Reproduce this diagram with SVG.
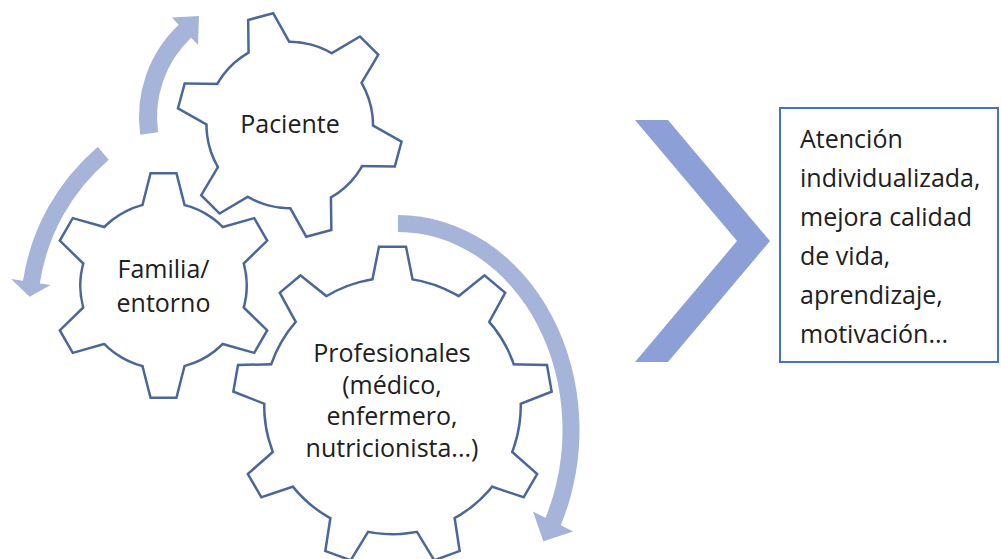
<svg xmlns="http://www.w3.org/2000/svg" width="1001" height="559" viewBox="0 0 1001 559">
<style>
.arc{fill:#A6B4DA}
.chev{fill:#8D9FD7}
.gs{fill:#4B6799;stroke:#4B6799;stroke-width:5;stroke-linejoin:miter}
.gf{fill:#ffffff}
.t{font-family:"Open Sans","Liberation Sans",sans-serif;font-size:25px;fill:#202020}
.c{text-anchor:middle}
.box{fill:#ffffff;stroke:#4472C4;stroke-width:2}
</style>
<defs>
<polygon id="t6" points="76,-20.9 111,-12 111,12 76,20.9"/>
<polygon id="t9" points="122,-19.7 158,-12.5 158,12.5 122,19.7"/>
<g id="gear6">
<circle r="82"/>
<use href="#t6"/>
<use href="#t6" transform="rotate(60)"/>
<use href="#t6" transform="rotate(120)"/>
<use href="#t6" transform="rotate(180)"/>
<use href="#t6" transform="rotate(240)"/>
<use href="#t6" transform="rotate(300)"/>
</g>
<g id="gear9">
<circle r="127"/>
<use href="#t9"/>
<use href="#t9" transform="rotate(40)"/>
<use href="#t9" transform="rotate(80)"/>
<use href="#t9" transform="rotate(120)"/>
<use href="#t9" transform="rotate(160)"/>
<use href="#t9" transform="rotate(200)"/>
<use href="#t9" transform="rotate(240)"/>
<use href="#t9" transform="rotate(280)"/>
<use href="#t9" transform="rotate(320)"/>
</g>
</defs>
<rect x="0" y="0" width="1001" height="559" fill="#ffffff"/>

<g id="connectors">
<path id="arrow-paciente" class="arc" d="M140.2 134.7 A127 127 0 0 1 178.7 24.7 L171.9 17.5 L199 16 L198 45.1 L191.1 37.8 A109 109 0 0 0 158.1 132.2 Z"/>
<path id="arrow-familia" class="arc" d="M97.7 146.9 A219.5 219.5 0 0 0 23 280.8 L11.1 279 L29.7 296.7 L50.6 285 L39.8 283.4 A202.5 202.5 0 0 1 108.8 159.8 Z"/>
<path id="arrow-profesionales" class="arc" d="M398 215 A181.5 215 0 0 1 560.7 525.3 L573.2 531.6 L543.3 541.2 L533 511.4 L545.5 517.7 A164.5 198 0 0 0 398 232 Z"/>
<polygon id="chevron" class="chev" points="635,120 668,120 770,241 668,362 635,362 737,241"/>
</g>

<g id="gear-profesionales">
<g transform="translate(392.5,406) rotate(30)">
<use href="#gear9" class="gs"/>
<use href="#gear9" class="gf"/>
</g>
<text class="t c" x="392" y="362">Profesionales</text>
<text class="t c" x="392" y="393.5">(médico,</text>
<text class="t c" x="392" y="425">enfermero,</text>
<text class="t c" x="392" y="456.5">nutricionista...)</text>
</g>

<g id="gear-paciente">
<g transform="translate(289.75,125) rotate(15)">
<use href="#gear6" class="gs"/>
<use href="#gear6" class="gf"/>
</g>
<text class="t c" x="290" y="133">Paciente</text>
</g>

<g id="gear-familia">
<g transform="translate(163.5,285.5) rotate(30)">
<use href="#gear6" class="gs"/>
<use href="#gear6" class="gf"/>
</g>
<text class="t c" x="163.5" y="278">Familia/</text>
<text class="t c" x="163.5" y="311.5">entorno</text>
</g>

<g id="resultado">
<rect class="box" x="780" y="108" width="218" height="254"/>
<text class="t" x="800" y="148">Atención</text>
<text class="t" x="800" y="187">individualizada,</text>
<text class="t" x="800" y="226">mejora calidad</text>
<text class="t" x="800" y="265">de vida,</text>
<text class="t" x="800" y="304">aprendizaje,</text>
<text class="t" x="800" y="343">motivación...</text>
</g>
</svg>
